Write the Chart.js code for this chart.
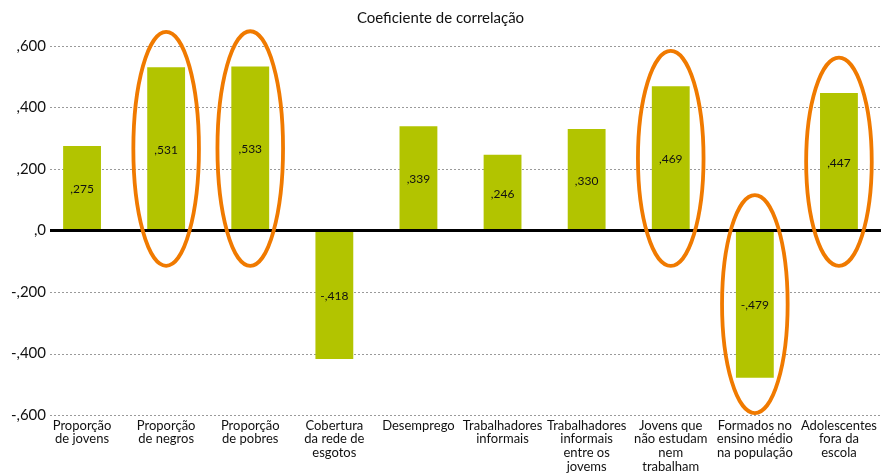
<!DOCTYPE html>
<html>
<head>
<meta charset="utf-8">
<script src="https://cdn.jsdelivr.net/npm/chart.js@4.4.1/dist/chart.umd.min.js"></script>
<style>
  html, body { margin: 0; padding: 0; background: #fff; }
  #wrap { width: 881px; height: 473px; }
</style>
</head>
<body>
<div id="wrap"><canvas id="corrChart"></canvas></div>
<script>
// Categories (multi-line labels) and correlation values
const categories = [
    ['Proporção', 'de jovens'],
    ['Proporção', 'de negros'],
    ['Proporção', 'de pobres'],
    ['Cobertura', 'da rede de', 'esgotos'],
    ['Desemprego'],
    ['Trabalhadores', 'informais'],
    ['Trabalhadores', 'informais', 'entre os', 'jovems'],
    ['Jovens que', 'não estudam', 'nem', 'trabalham'],
    ['Formados no', 'ensino médio', 'na população'],
    ['Adolescentes', 'fora da', 'escola']
];
const correlations = [0.275, 0.531, 0.533, -0.418, 0.339, 0.246, 0.330, 0.469, -0.479, 0.447];
// Bars circled in orange
const highlighted = [1, 2, 7, 8, 9];
const yTicks = [-0.6, -0.4, -0.2, 0, 0.2, 0.4, 0.6];

const FONT = 'Lato, "Open Sans", sans-serif';

// Format like ",531" / "-,418" / ",0"
function fmt(v, digits) {
    if (Math.abs(v) < 1e-9) return ',0';
    const s = Math.abs(v).toFixed(digits).slice(1).replace('.', ',');
    return (v < 0 ? '-' : '') + s;
}

// Dotted grid, y tick labels, value labels, zero line and ellipses
const decorPlugin = {
    id: 'decor',
    beforeDatasetsDraw(chart) {
        const { ctx, chartArea, scales: { y } } = chart;
        ctx.save();
        ctx.strokeStyle = '#9a9a9a';
        ctx.lineWidth = 1;
        ctx.setLineDash([2, 2]);
        yTicks.forEach(v => {
            if (v === 0) return;
            const py = Math.round(y.getPixelForValue(v)) + 0.5;
            ctx.beginPath();
            ctx.moveTo(chartArea.left + 10, py);
            ctx.lineTo(chartArea.right, py);
            ctx.stroke();
        });
        ctx.setLineDash([]);
        // y tick labels, right-aligned just left of the grid lines
        ctx.fillStyle = '#111';
        ctx.font = '15px ' + FONT;
        ctx.textAlign = 'right';
        ctx.textBaseline = 'middle';
        yTicks.forEach(v => {
            ctx.fillText(fmt(v, 3), chartArea.left + 6, y.getPixelForValue(v));
        });
        ctx.restore();
    },
    afterDatasetsDraw(chart) {
        const { ctx, chartArea, scales: { y } } = chart;
        const meta = chart.getDatasetMeta(0);
        ctx.save();
        // value labels in the middle of each bar
        ctx.fillStyle = '#111';
        ctx.font = '12px ' + FONT;
        ctx.textAlign = 'center';
        ctx.textBaseline = 'middle';
        meta.data.forEach((bar, i) => {
            ctx.fillText(fmt(correlations[i], 3), bar.x, (bar.y + bar.base) / 2 + 1);
        });
        // thick zero line
        const zy = y.getPixelForValue(0);
        ctx.strokeStyle = '#000';
        ctx.lineWidth = 3;
        ctx.beginPath();
        ctx.moveTo(chartArea.left + 10, zy);
        ctx.lineTo(chartArea.right, zy);
        ctx.stroke();
        // orange ellipses
        const catW = (chartArea.right - chartArea.left) / categories.length;
        ctx.strokeStyle = '#f07a00';
        ctx.lineWidth = 3.8;
        highlighted.forEach(i => {
            const v = correlations[i];
            const top = y.getPixelForValue(Math.max(0, v) + 0.115);
            const bottom = y.getPixelForValue(Math.min(0, v) - 0.115);
            const cx = meta.data[i].x;
            ctx.beginPath();
            ctx.ellipse(cx, (top + bottom) / 2, catW * 0.39, (bottom - top) / 2, 0, 0, Math.PI * 2);
            ctx.stroke();
        });
        ctx.restore();
    }
};

new Chart(document.getElementById('corrChart'), {
    type: 'bar',
    data: {
        labels: categories,
        datasets: [{
            data: correlations,
            backgroundColor: '#b2c400',
            borderWidth: 0,
            barPercentage: 0.45,
            categoryPercentage: 1
        }]
    },
    options: {
        responsive: true,
        maintainAspectRatio: false,
        animation: false,
        layout: { padding: { left: 0, right: 0, top: 0, bottom: 0 } },
        plugins: {
            legend: { display: false },
            tooltip: { enabled: false },
            title: {
                display: true,
                text: 'Coeficiente de correlação',
                color: '#111',
                font: { family: FONT, size: 15, weight: 'normal' },
                padding: { top: 9, bottom: 19 }
            }
        },
        scales: {
            x: {
                afterFit(scale) { scale.height = 58; },
                grid: { display: false, drawTicks: false },
                border: { display: false },
                ticks: {
                    color: '#111',
                    font: { family: FONT, size: 13, lineHeight: 1.04 },
                    padding: 4,
                    maxRotation: 0,
                    autoSkip: false
                }
            },
            y: {
                min: -0.6,
                max: 0.6,
                afterFit(scale) { scale.width = 40; },
                afterBuildTicks(scale) { scale.ticks = yTicks.map(v => ({ value: v })); },
                grid: { display: false, drawTicks: false },
                border: { display: false },
                ticks: { display: false }
            }
        }
    },
    plugins: [decorPlugin]
});
</script>
</body>
</html>
